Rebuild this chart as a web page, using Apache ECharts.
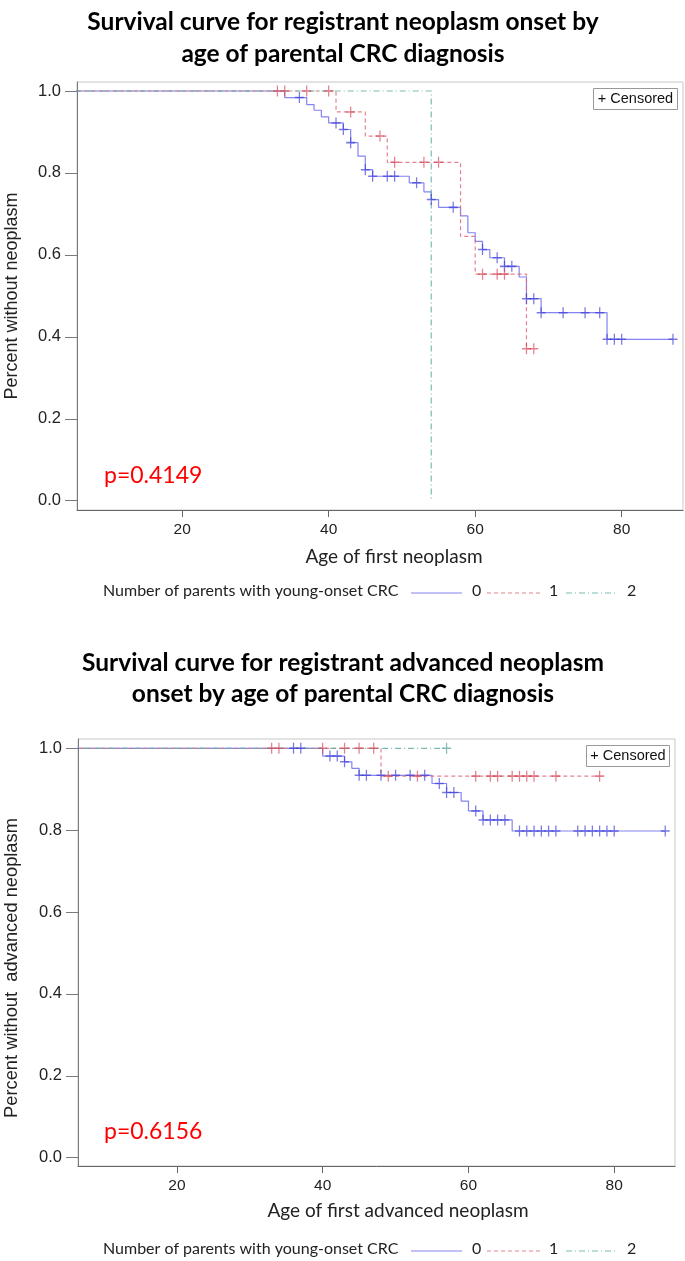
<!DOCTYPE html>
<html>
<head>
<meta charset="utf-8">
<script src="https://cdn.jsdelivr.net/npm/echarts@6/dist/echarts.min.js"></script>
<style>
html,body{margin:0;padding:0;background:#fff;}
#chart{width:685px;height:1261px;}
</style>
</head>
<body>
<div id="chart"></div>
<script>
// ---------- Data ----------
// Chart 1: any neoplasm
const topTitle = ["Survival curve for registrant neoplasm onset by", "age of parental CRC diagnosis"];
const topYLabel = "Percent without neoplasm";
const topXLabel = "Age of first neoplasm";
const topPValue = "p=0.4149";
const topG0Times = [34, 37, 38, 39, 40, 42, 43, 44, 45, 46, 51, 53, 54, 55, 58, 59, 60, 61, 62, 64, 66, 67, 69, 78];
const topG0Surv  = [0.984, 0.967, 0.953, 0.937, 0.922, 0.906, 0.874, 0.841, 0.808, 0.792, 0.776, 0.754, 0.735, 0.716, 0.695, 0.654, 0.633, 0.613, 0.593, 0.572, 0.546, 0.493, 0.459, 0.394];
const topG0End = 87;
const topG0Censor = [36, 41, 42, 43, 45, 46, 48, 49, 52, 54, 57, 61, 63, 64, 65, 67, 68, 69, 72, 75, 77, 78, 79, 80, 87];
const topG1Times = [41, 45, 48, 58, 60, 67];
const topG1Surv  = [0.949, 0.890, 0.826, 0.645, 0.553, 0.371];
const topG1End = 68;
const topG1Censor = [33, 34, 37, 40, 43, 47, 49, 53, 55, 61, 63, 64, 67, 68];
const topG2Times = [54];
const topG2Surv  = [0.0];
const topG2End = 54;
const topG2Censor = [];

// Chart 2: advanced neoplasm
const botTitle = ["Survival curve for registrant advanced neoplasm", "onset by age of parental CRC diagnosis"];
const botYLabel = "Percent without  advanced neoplasm";
const botXLabel = "Age of first advanced neoplasm";
const botPValue = "p=0.6156";
const botG0Times = [40, 43, 44, 45, 55, 57, 59, 60, 62, 66];
const botG0Surv  = [0.981, 0.967, 0.951, 0.934, 0.914, 0.892, 0.871, 0.847, 0.825, 0.798];
const botG0End = 87;
const botG0Censor = [36, 37, 41, 42, 43, 45, 46, 48, 50, 52, 54, 56, 57, 58, 61, 62, 63, 64, 65, 67, 68, 69, 70, 71, 72, 75, 76, 77, 78, 79, 80, 87];
const botG1Times = [48];
const botG1Surv  = [0.932];
const botG1End = 78;
const botG1Censor = [33, 34, 40, 43, 45, 47, 49, 53, 61, 63, 64, 66, 67, 68, 69, 72, 78];
const botG2Times = [];
const botG2Surv  = [];
const botG2End = 57;
const botG2Censor = [57];

const yTicks = [0, 0.2, 0.4, 0.6, 0.8, 1.0];
const xTicks = [20, 40, 60, 80];
const groupNames = ["0", "1", "2"];
const legendTitle = "Number of parents with young-onset CRC";
const censoredLabel = "+ Censored";

// ---------- Helpers ----------
function survAt(times, surv, t) {
  let s = 1;
  for (let i = 0; i < times.length; i++) if (times[i] <= t) s = surv[i];
  return s;
}
function stepData(times, surv, end) {
  const d = [[0, 1]];
  for (let i = 0; i < times.length; i++) d.push([times[i], surv[i]]);
  d.push([end, survAt(times, surv, end)]);
  return d;
}
function censorData(times, surv, cens) {
  return cens.map(t => [t, survAt(times, surv, t)]);
}

const colors = {
  line: ['rgba(110,110,240,0.85)', 'rgba(225,110,125,0.85)', 'rgba(100,175,165,0.85)'],
  mark: ['rgba(60,60,215,0.85)', 'rgba(215,70,90,0.85)', 'rgba(80,160,150,0.85)'],
  dash: ['solid', [4, 3], [6, 3, 1, 3]]
};
const plusPath = 'path://M4.3,0h1.4v10h-1.4z M0,4.3h10v1.4h-10z';

function lineSeries(gi, idx, data) {
  return {
    type: 'line', xAxisIndex: gi, yAxisIndex: gi, data: data, step: 'end',
    showSymbol: false, symbol: 'none', silent: true, clip: true, animation: false,
    lineStyle: { color: colors.line[idx], width: 1.2, type: colors.dash[idx] },
    z: 3 + idx
  };
}
function censorSeries(gi, idx, data) {
  return {
    type: 'scatter', xAxisIndex: gi, yAxisIndex: gi, data: data,
    symbol: plusPath, symbolSize: [9, 11], silent: true, animation: false,
    itemStyle: { color: colors.mark[idx] }, z: 6
  };
}

const axisColor = '#7a7a7a';
const tickFont = "'Liberation Sans', Arial, sans-serif";
const narrowFont = "'Liberation Sans Narrow', 'Liberation Sans', Arial, sans-serif";
const labelFont = "Lato, 'Open Sans', sans-serif";

function makeX(gi, min, max) {
  return {
    type: 'value', gridIndex: gi, min: min, max: max,
    axisLine: { show: true, onZero: false, lineStyle: { color: '#666', width: 1 } },
    axisTick: { show: true, length: 7, customValues: xTicks, lineStyle: { color: '#666' } },
    axisLabel: { customValues: xTicks, margin: 12, color: '#222', fontSize: 15.5, fontFamily: narrowFont },
    splitLine: { show: false }
  };
}
function makeY(gi, min, max) {
  return {
    type: 'value', gridIndex: gi, min: min, max: max,
    axisLine: { show: true, onZero: false, lineStyle: { color: axisColor, width: 1 } },
    axisTick: { show: true, length: 12, customValues: yTicks, lineStyle: { color: axisColor } },
    axisLabel: { customValues: yTicks, margin: 16, color: '#222', fontSize: 16.5, fontFamily: tickFont,
                 formatter: v => v.toFixed(1) },
    splitLine: { show: false }
  };
}

function legendGraphics(y) {
  const g = [];
  g.push({ type: 'text', left: 103, top: y - 10, style: { text: legendTitle, fontSize: 16, fontFamily: labelFont, fill: '#222' } });
  const xs = [[411, 462, 472], [487, 540, 549], [566, 616, 627]];
  for (let i = 0; i < 3; i++) {
    g.push({ type: 'line', shape: { x1: xs[i][0], y1: y, x2: xs[i][1], y2: y },
             style: { stroke: colors.line[i], lineWidth: 1.2, lineDash: colors.dash[i] === 'solid' ? null : colors.dash[i] } });
    g.push({ type: 'text', left: xs[i][2], top: y - 10, style: { text: groupNames[i], fontSize: 16, fontFamily: labelFont, fill: '#222' } });
  }
  return g;
}
function censorBox(x, y, w, h) {
  return [
    { type: 'rect', shape: { x: x, y: y, width: w, height: h }, style: { fill: '#fff', stroke: '#999', lineWidth: 1 }, z: 10 },
    { type: 'text', x: x + w / 2, y: y + h / 2, style: { text: censoredLabel, fontSize: 14.5, fontFamily: tickFont, fill: '#111', align: 'center', verticalAlign: 'middle' }, z: 11 }
  ];
}
function titleGraphics(lines, y1, y2) {
  return [
    { type: 'text', x: 343, y: y1, style: { text: lines[0], fontSize: 24.5, fontWeight: 'bold', fontFamily: labelFont, fill: '#000', align: 'center', verticalAlign: 'middle' } },
    { type: 'text', x: 343, y: y2, style: { text: lines[1], fontSize: 24.5, fontWeight: 'bold', fontFamily: labelFont, fill: '#000', align: 'center', verticalAlign: 'middle' } }
  ];
}
function yLabelGraphic(text, cx, cy, size) {
  return { type: 'text', x: cx, y: cy, rotation: Math.PI / 2,
           style: { text: text, fontSize: size, fontFamily: tickFont, fill: '#222', align: 'center', verticalAlign: 'middle' } };
}
function xLabelGraphic(text, cx, cy) {
  return { type: 'text', x: cx, y: cy, style: { text: text, fontSize: 19, fontFamily: labelFont, fill: '#222', align: 'center', verticalAlign: 'middle' } };
}
function pGraphic(text, x, cy) {
  return { type: 'text', x: x, y: cy, style: { text: text, fontSize: 23, fontFamily: labelFont, fill: '#ff0000', align: 'left', verticalAlign: 'middle' }, z: 12 };
}

const chart = echarts.init(document.getElementById('chart'), null, { renderer: 'canvas' });
const option = {
  backgroundColor: '#fff',
  animation: false,
  grid: [
    { left: 77, top: 82, width: 606, height: 428, show: true, borderColor: '#c8c8c8', borderWidth: 1, backgroundColor: 'transparent' },
    { left: 78, top: 739, width: 597, height: 427, show: true, borderColor: '#c8c8c8', borderWidth: 1, backgroundColor: 'transparent' }
  ],
  xAxis: [makeX(0, 5.64, 88.37), makeX(1, 6.43, 88.34)],
  yAxis: [makeY(0, -0.0227, 1.022), makeY(1, -0.0203, 1.0227)],
  series: [
    lineSeries(0, 0, stepData(topG0Times, topG0Surv, topG0End)),
    lineSeries(0, 1, stepData(topG1Times, topG1Surv, topG1End)),
    lineSeries(0, 2, stepData(topG2Times, topG2Surv, topG2End)),
    censorSeries(0, 0, censorData(topG0Times, topG0Surv, topG0Censor)),
    censorSeries(0, 1, censorData(topG1Times, topG1Surv, topG1Censor)),
    censorSeries(0, 2, censorData(topG2Times, topG2Surv, topG2Censor)),
    lineSeries(1, 0, stepData(botG0Times, botG0Surv, botG0End)),
    lineSeries(1, 1, stepData(botG1Times, botG1Surv, botG1End)),
    lineSeries(1, 2, stepData(botG2Times, botG2Surv, botG2End)),
    censorSeries(1, 0, censorData(botG0Times, botG0Surv, botG0Censor)),
    censorSeries(1, 1, censorData(botG1Times, botG1Surv, botG1Censor)),
    censorSeries(1, 2, censorData(botG2Times, botG2Surv, botG2Censor))
  ],
  graphic: [].concat(
    titleGraphics(topTitle, 22, 54),
    titleGraphics(botTitle, 663, 694),
    [yLabelGraphic(topYLabel, 12, 296, 18), yLabelGraphic(botYLabel, 12, 968, 18.3)],
    [xLabelGraphic(topXLabel, 394, 557), xLabelGraphic(botXLabel, 398, 1211)],
    [pGraphic(topPValue, 104, 476), pGraphic(botPValue, 104, 1132)],
    censorBox(593.5, 88.5, 84, 21),
    censorBox(586.5, 745.5, 83, 21),
    legendGraphics(593),
    legendGraphics(1251)
  )
};
chart.setOption(option);
</script>
</body>
</html>
